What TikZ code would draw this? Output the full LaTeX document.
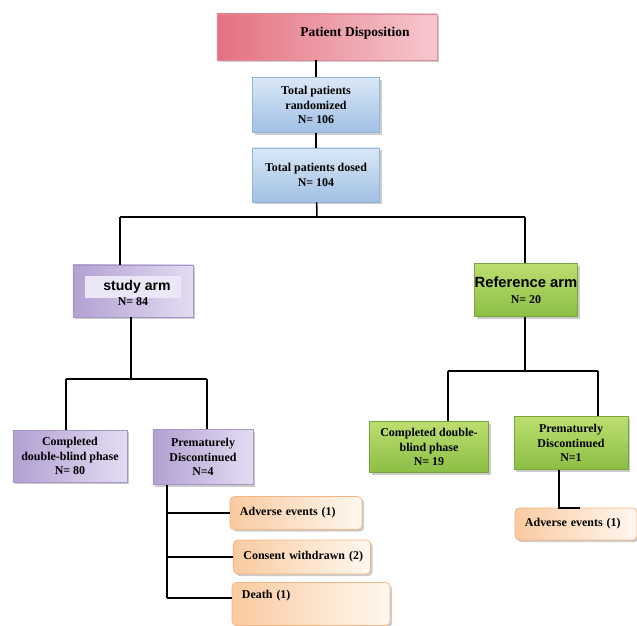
\documentclass[tikz,border=0pt]{standalone}
\usepackage{fontspec}
\setmainfont{Liberation Serif}
\newfontfamily\armfont{Liberation Sans}
\usetikzlibrary{shadows}

\definecolor{titleleft}{RGB}{228,112,128}
\definecolor{titleright}{RGB}{246,200,206}
\definecolor{titleline}{RGB}{225,140,150}
\definecolor{bluetop}{RGB}{218,232,247}
\definecolor{bluebottom}{RGB}{160,192,228}
\definecolor{blueline}{RGB}{150,180,215}
\definecolor{purpleleft}{RGB}{178,160,210}
\definecolor{purpleright}{RGB}{228,220,242}
\definecolor{purpleline}{RGB}{165,150,200}
\definecolor{greentop}{RGB}{188,222,112}
\definecolor{greenbottom}{RGB}{140,190,68}
\definecolor{greenline}{RGB}{120,165,60}
\definecolor{orangeleft}{RGB}{250,202,160}
\definecolor{orangeright}{RGB}{255,248,240}
\definecolor{orangeline}{RGB}{244,182,130}

\begin{document}
\begin{tikzpicture}[x=0.025cm,y=-0.025cm,line width=1.1pt]
	\tikzstyle{every node}=[font=\fontsize{8.5}{10.3}\selectfont\bfseries, align=center, inner sep=0pt]
	\tikzstyle{stepbox}=[draw, line width=0.5pt, drop shadow={opacity=0.4,shadow xshift=1.5pt,shadow yshift=-1.5pt}]
	\tikzstyle{titlebox}=[stepbox, draw=titleline, left color=titleleft, right color=titleright]
	\tikzstyle{bluebox}=[stepbox, draw=blueline, top color=bluetop, bottom color=bluebottom]
	\tikzstyle{purplebox}=[stepbox, draw=purpleline, left color=purpleleft, right color=purpleright]
	\tikzstyle{greenbox}=[stepbox, draw=greenline, top color=greentop, bottom color=greenbottom]
	\tikzstyle{orangebox}=[stepbox, draw=orangeline, left color=orangeleft, right color=orangeright,
		rounded corners=3pt, align=left, inner xsep=0.25cm]

	\useasboundingbox (0,0) rectangle (637,625);

	% top of the chart
	\node[titlebox, minimum width=5.5cm, minimum height=1.15cm] (title) at (327,37)
		{\fontsize{9.6}{11}\selectfont\raisebox{7pt}{\hspace{1.4cm}Patient Disposition}};
	\node[bluebox, minimum width=3.175cm, minimum height=1.375cm] (rand) at (316,105)
		{Total patients\\randomized\\N= 106};
	\node[bluebox, minimum width=3.175cm, minimum height=1.35cm] (dosed) at (316,175)
		{Total patients dosed\\N= 104};

	% the two arms
	\node[purplebox, minimum width=3.0cm, minimum height=1.3cm] (study) at (133,291)
		{\colorbox{purpleright!70!white}{\armfont\fontsize{10}{11}\selectfont\hspace{0.35cm}study arm\hspace{0.15cm}}\\[-1pt]N= 84};
	\node[greenbox, minimum width=2.575cm, minimum height=1.325cm] (ref) at (526,290)
		{\armfont\fontsize{10.5}{11.5}\selectfont Reference arm\\[1pt]N= 20};

	% study arm outcomes
	\node[purplebox, minimum width=2.85cm, minimum height=1.3cm] (scomp) at (70,456)
		{Completed\\double-blind phase\\N= 80};
	\node[purplebox, minimum width=2.5cm, minimum height=1.375cm] (spre) at (203,457)
		{Prematurely\\Discontinued\\N=4};
	\node[orangebox, text width=2.8cm, minimum height=0.825cm] (ae1) at (296,513) {Adverse events (1)};
	\node[orangebox, text width=2.925cm, minimum height=0.85cm] (cw) at (302,557) {\mbox{Consent withdrawn (2)}};
	\node[orangebox, text width=3.45cm, minimum height=1.075cm] (death) at (311,604) {Death (1)\\[4pt]~};

	% reference arm outcomes
	\node[greenbox, minimum width=2.975cm, minimum height=1.275cm] (rcomp) at (429,447)
		{Completed double-\\blind phase\\N= 19};
	\node[greenbox, minimum width=2.85cm, minimum height=1.325cm] (rpre) at (571,443)
		{Prematurely\\Discontinued\\N=1};
	\node[orangebox, text width=2.55cm, minimum height=0.8cm] (rae) at (576,524) {Adverse events (1)};

	% connectors
	\coordinate (split) at (317,217);
	\coordinate (split-l) at (120,217);
	\coordinate (split-r) at (525,217);
	\coordinate (ssplit) at (131,379);
	\coordinate (ssplit-l) at (66,379);
	\coordinate (ssplit-r) at (207,379);
	\coordinate (rsplit) at (525,371);
	\coordinate (rsplit-l) at (448,371);
	\coordinate (rsplit-r) at (598,371);
	\coordinate (trunk) at (167,598);
	\coordinate (rdrop) at (559,508);
	\coordinate (rbend) at (580,508);

	\draw (title.south -| rand.north) -- (rand.north);
	\draw (rand) -- (dosed);
	\draw (dosed) -- (split);
	\draw (split-l) -- (split-r);
	\draw (split-l) -- (split-l |- study.north);
	\draw (split-r) -- (split-r |- ref.north);

	\draw (study.south -| ssplit) -- (ssplit);
	\draw (ssplit-l) -- (ssplit-r);
	\draw (ssplit-l) -- (ssplit-l |- scomp.north);
	\draw (ssplit-r) -- (ssplit-r |- spre.north);
	\draw (spre.south -| trunk) -- (trunk);
	\foreach \n in {ae1, cw}
		\draw (trunk |- \n.west) -- (\n.west);
	\draw (trunk) -- (trunk -| death.west);

	\draw (ref.south -| rsplit) -- (rsplit);
	\draw (rsplit-l) -- (rsplit-r);
	\draw (rsplit-l) -- (rsplit-l |- rcomp.north);
	\draw (rsplit-r) -- (rsplit-r |- rpre.north);
	\draw (rpre.south -| rdrop) -- (rdrop) -- (rbend);
\end{tikzpicture}
\end{document}
